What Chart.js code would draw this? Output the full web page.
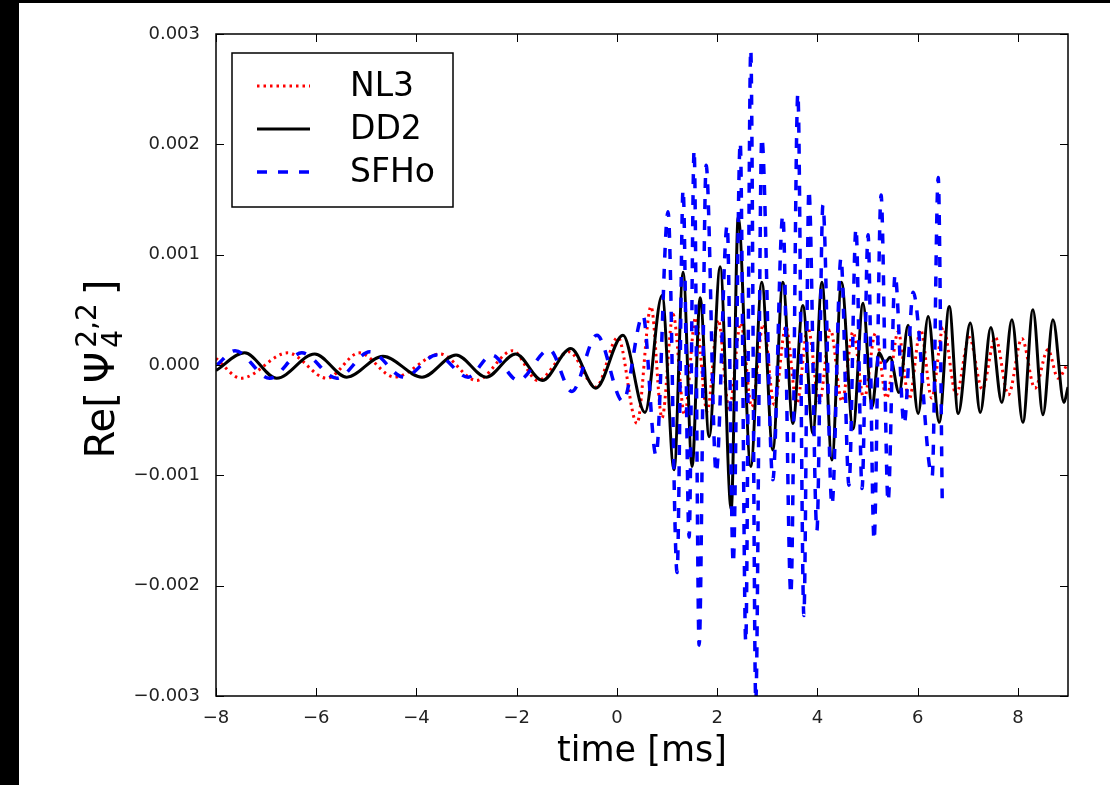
<!DOCTYPE html>
<html>
<head>
<meta charset="utf-8">
<script src="https://cdn.jsdelivr.net/npm/chart.js@4.4.0/dist/chart.umd.min.js"></script>
<style>
  html, body { margin: 0; padding: 0; background: #000; width: 1110px; height: 785px; overflow: hidden; }
  #wrap { position: absolute; left: 19px; top: 3px; width: 1091px; height: 782px; background: #fff; }
</style>
</head>
<body>
<div id="wrap"><canvas id="psiChart" width="1091" height="782"></canvas></div>
<script>
// values; Re[Psi4] in units of 1e-3
const unit = 1e-3;

const tNL3 = [-8.0, -7.50, -6.57, -5.79, -5.14, -4.44, -3.53, -2.80, -2.08, -1.58, -0.96, -0.42, 0.02, 0.40,
    0.68, 0.90, 1.12, 1.35, 1.57, 1.80, 2.02, 2.24, 2.47, 2.69, 2.92, 3.14, 3.37, 3.59, 3.81, 4.04, 4.26,
    4.49, 4.71, 4.93, 5.16, 5.38, 5.61, 5.83, 6.06, 6.28, 6.51, 6.77, 7.03, 7.29, 7.55, 7.81, 8.08, 8.34,
    8.60, 8.80, 9.0];
const vNL3 = [0.06, -0.12, 0.11, -0.12, 0.11, -0.11, 0.10, -0.14, 0.13, -0.14, 0.12, -0.20, 0.25, -0.53,
    0.53, -0.48, 0.46, -0.45, 0.43, -0.42, 0.41, -0.40, 0.38, -0.38, 0.37, -0.36, 0.35, -0.35, 0.34, -0.33, 0.32,
    -0.33, 0.30, -0.31, 0.29, -0.30, 0.30, -0.31, 0.32, -0.30, 0.34, -0.27, 0.25, -0.22, 0.25, -0.27, 0.24, -0.21,
    0.14, -0.12, 0.02];

const tDD2 = [-8.0, -7.43, -6.79, -6.03, -5.39, -4.67, -3.89, -3.21, -2.61, -2.02, -1.49, -0.92, -0.42, 0.12,
    0.56, 0.90, 1.14, 1.32, 1.50, 1.66, 1.84, 2.06, 2.28, 2.42, 2.67, 2.89, 3.11, 3.31, 3.51, 3.71, 3.91,
    4.09, 4.29, 4.48, 4.71, 4.91, 5.09, 5.23, 5.35, 5.45, 5.63, 5.81, 6.01, 6.21, 6.43, 6.63, 6.81, 7.05,
    7.25, 7.46, 7.68, 7.88, 8.10, 8.30, 8.50, 8.70, 8.92, 9.0];
const vDD2 = [-0.05, 0.11, -0.12, 0.10, -0.11, 0.08, -0.11, 0.09, -0.11, 0.10, -0.14, 0.15, -0.21, 0.27,
    -0.43, 0.63, -0.95, 0.84, -0.92, 0.61, -0.65, 0.89, -1.31, 1.34, -0.92, 0.75, -0.77, 0.75, -0.53, 0.54, -0.62,
    0.75, -0.86, 0.75, -0.58, 0.56, -0.38, 0.11, 0.02, 0.07, -0.25, 0.36, -0.44, 0.44, -0.52, 0.53, -0.44, 0.38,
    -0.43, 0.34, -0.34, 0.41, -0.52, 0.50, -0.45, 0.41, -0.34, -0.20];

const tSFHo = [-7.98, -7.62, -6.93, -6.29, -5.59, -4.93, -4.25, -3.60, -2.97, -2.50, -1.97, -1.35, -0.90, -0.40,
    0.12, 0.52, 0.78, 1.02, 1.20, 1.32, 1.44, 1.54, 1.64, 1.78, 1.98, 2.20, 2.32, 2.46, 2.57, 2.67, 2.77,
    2.89, 3.11, 3.31, 3.47, 3.61, 3.73, 3.83, 3.99, 4.11, 4.29, 4.47, 4.63, 4.77, 4.89, 5.01, 5.13, 5.27,
    5.41, 5.55, 5.73, 5.91, 6.29, 6.41, 6.49];
const vSFHo = [0.0, 0.13, -0.12, 0.11, -0.12, 0.12, -0.11, 0.09, -0.11, 0.09, -0.14, 0.14, -0.24, 0.27,
    -0.33, 0.45, -0.82, 1.39, -1.88, 1.59, -1.56, 1.95, -2.54, 1.81, -0.98, 1.27, -1.80, 2.02, -2.51, 2.86, -3.05,
    2.06, -1.04, 1.36, -2.08, 2.46, -2.27, 1.59, -1.50, 1.45, -1.27, 0.97, -1.09, 1.24, -1.12, 1.18, -1.59, 1.54,
    -1.24, 0.82, -0.54, 0.66, -1.01, 1.70, -1.22];

const xTickValues = [-8, -6, -4, -2, 0, 2, 4, 6, 8];
const yTickValues = [-0.003, -0.002, -0.001, 0.000, 0.001, 0.002, 0.003];

const seriesNames = ['NL3', 'DD2', 'SFHo'];
const seriesColors = ['#ff0000', '#000000', '#0000ff'];
const seriesDash = [[2.5, 4], [], [10, 11]];
const seriesWidth = [3, 3, 3.5];

function toPoints(ts, vs) {
    return ts.map((t, i) => ({ x: t, y: vs[i] * unit }));
}

function fmtMinus(s) {
    return s.replace('-', '\u2212');
}

// inward ticks on all four sides plus the box
const frameTicks = {
    id: 'frameTicks',
    afterDatasetsDraw(chart) {
        const { ctx, chartArea: a, scales } = chart;
        const len = 8;
        ctx.save();
        ctx.strokeStyle = '#000';
        ctx.lineWidth = 1;
        ctx.beginPath();
        xTickValues.forEach(v => {
            const px = Math.round(scales.x.getPixelForValue(v)) + 0.5;
            ctx.moveTo(px, a.bottom); ctx.lineTo(px, a.bottom - len);
            ctx.moveTo(px, a.top); ctx.lineTo(px, a.top + len);
        });
        yTickValues.forEach(v => {
            const py = Math.round(scales.y.getPixelForValue(v)) + 0.5;
            ctx.moveTo(a.left, py); ctx.lineTo(a.left + len, py);
            ctx.moveTo(a.right, py); ctx.lineTo(a.right - len, py);
        });
        ctx.stroke();
        ctx.lineWidth = 1.5;
        ctx.strokeRect(a.left, a.top, a.right - a.left, a.bottom - a.top);
        ctx.restore();
    }
};

// legend box in upper left, matplotlib style
const boxLegend = {
    id: 'boxLegend',
    afterDraw(chart) {
        const ctx = chart.ctx;
        const a = chart.chartArea;
        const bx = a.left + 16, by = a.top + 19, bw = 221, bh = 154;
        ctx.save();
        ctx.fillStyle = '#fff';
        ctx.fillRect(bx, by, bw, bh);
        ctx.strokeStyle = '#000';
        ctx.lineWidth = 1.5;
        ctx.strokeRect(bx, by, bw, bh);
        ctx.font = '33px "DejaVu Sans"';
        ctx.textBaseline = 'middle';
        seriesNames.forEach((name, i) => {
            const y = by + 33 + i * 43;
            ctx.beginPath();
            ctx.strokeStyle = seriesColors[i];
            ctx.lineWidth = seriesWidth[i];
            ctx.setLineDash(seriesDash[i]);
            ctx.moveTo(bx + 25, y);
            ctx.lineTo(bx + 78, y);
            ctx.stroke();
            ctx.setLineDash([]);
            ctx.fillStyle = '#000';
            ctx.fillText(name, bx + 118, y + 1);
        });
        ctx.restore();
    }
};

// y label Re[Psi_4^{2,2}], rotated
const yLabel = {
    id: 'yLabel',
    afterDraw(chart) {
        const ctx = chart.ctx;
        const big = '40px "DejaVu Sans"', small = '28px "DejaVu Sans"';
        ctx.save();
        ctx.translate(81, 366);
        ctx.rotate(-Math.PI / 2);
        ctx.fillStyle = '#000';
        ctx.textBaseline = 'alphabetic';
        ctx.font = big;
        const wRe = ctx.measureText('Re[').width;
        const wPsi = ctx.measureText('\u03A8').width;
        const wBr = ctx.measureText(']').width;
        ctx.font = small;
        const wSup = ctx.measureText('2,2').width;
        const total = wRe + 9 + wPsi + 4 + wSup + 8 + wBr;
        let x = -total / 2;
        const base = 14;
        ctx.font = big;
        ctx.fillText('Re[', x, base);
        x += wRe + 9;
        ctx.fillText('\u03A8', x, base);
        x += wPsi + 4;
        ctx.font = small;
        ctx.fillText('2,2', x, base - 18);
        ctx.fillText('4', x, base + 8);
        x += wSup + 8;
        ctx.font = big;
        ctx.fillText(']', x, base);
        ctx.restore();
    }
};

const ctx = document.getElementById('psiChart').getContext('2d');
const psiChart = new Chart(ctx, {
    type: 'line',
    data: {
        datasets: [
            { label: 'NL3', data: toPoints(tNL3, vNL3) },
            { label: 'DD2', data: toPoints(tDD2, vDD2) },
            { label: 'SFHo', data: toPoints(tSFHo, vSFHo) }
        ].map((d, i) => Object.assign(d, {
            borderColor: seriesColors[i],
            borderWidth: seriesWidth[i],
            borderDash: seriesDash[i],
            pointRadius: 0,
            fill: false,
            cubicInterpolationMode: 'monotone'
        })).reverse()
    },
    options: {
        responsive: false,
        devicePixelRatio: 1,
        animation: false,
        layout: { padding: { top: 31, right: 42, left: 0, bottom: 0 } },
        plugins: {
            legend: { display: false },
            tooltip: { enabled: false }
        },
        scales: {
            x: {
                type: 'linear',
                min: -8,
                max: 9,
                afterBuildTicks: scale => { scale.ticks = xTickValues.map(v => ({ value: v })); },
                afterFit: scale => { scale.height = 89; },
                grid: { display: false },
                border: { display: false },
                ticks: {
                    color: '#222',
                    padding: 4,
                    maxRotation: 0,
                    font: { family: 'DejaVu Sans', size: 18 },
                    callback: v => fmtMinus(String(v))
                },
                title: {
                    display: true,
                    text: 'time [ms]',
                    color: '#000',
                    font: { family: 'DejaVu Sans', size: 35 },
                    padding: { top: 0, bottom: 12 }
                }
            },
            y: {
                type: 'linear',
                min: -0.003,
                max: 0.003,
                afterBuildTicks: scale => { scale.ticks = yTickValues.map(v => ({ value: v })); },
                afterFit: scale => { scale.width = 197; },
                grid: { display: false },
                border: { display: false },
                ticks: {
                    color: '#222',
                    padding: 8,
                    font: { family: 'DejaVu Sans', size: 18 },
                    callback: v => fmtMinus(Number(v).toFixed(3))
                }
            }
        }
    },
    plugins: [frameTicks, boxLegend, yLabel]
});
</script>
</body>
</html>
